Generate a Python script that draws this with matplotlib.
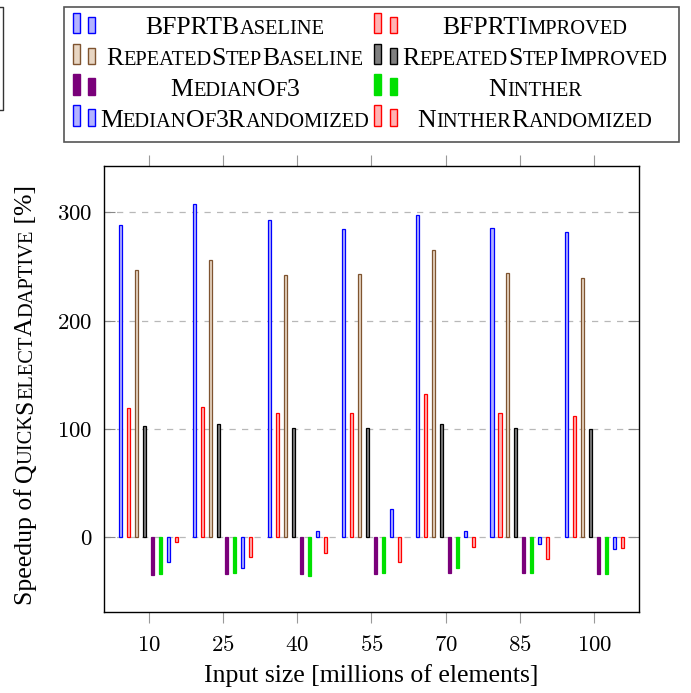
import numpy as np
import matplotlib
matplotlib.use("Agg")
import matplotlib.pyplot as plt
from matplotlib.patches import Rectangle
from matplotlib.lines import Line2D
from matplotlib.transforms import IdentityTransform

plt.rcParams['font.family'] = ['Liberation Serif', 'DejaVu Serif']
plt.rcParams['mathtext.fontset'] = 'cm'

# data
sizes = [10, 25, 40, 55, 70, 85, 100]
bfprt_base = [288, 308, 293, 285, 298, 286, 282]
bfprt_impr = [119, 120, 114, 114, 132, 114, 112]
rs_base = [247, 256, 242, 243, 265, 244, 239]
rs_impr = [102, 104, 101, 101, 104, 101, 100]
median3 = [-35.4, -34.5, -34.5, -34.5, -33.6, -34, -34.5]
ninther = [-34.8, -33.3, -36, -34, -29.3, -34, -34.5]
median3_rand = [-23.7, -29.3, 5.6, 25.6, 5.6, -7.1, -11.7]
ninther_rand = [-4.6, -19.1, -14.8, -23.7, -9.2, -20.9, -10.2]

names = ["BFPRTBaseline", "BFPRTImproved", "RepeatedStepBaseline", "RepeatedStepImproved",
         "MedianOf3", "Ninther", "MedianOf3Randomized", "NintherRandomized"]
series = [bfprt_base, bfprt_impr, rs_base, rs_impr, median3, ninther, median3_rand, ninther_rand]
edges = ['#0000ff', '#ff0000', '#7f5430', '#000000', '#7a007a', '#00e000', '#0000ff', '#ff0000']
fills = ['#b3b3ff', '#ffb3b3', '#e8d6c3', '#7f7f7f', '#7a007a', '#00e000', '#b3b3ff', '#ffb3b3']

W, H = 691, 693
FS = 18.5
fig = plt.figure(figsize=(W / 100, H / 100), dpi=100)
ax = fig.add_axes([104 / W, 1 - 612.3 / H, (639.3 - 104) / W, (612.3 - 166) / H])

step = 1.615
width = 0.62
x = np.array(sizes, dtype=float)
for k in range(len(series)):
    ax.bar(x + (k - 3.5) * step, series[k], width, color=fills[k], edgecolor=edges[k],
           linewidth=0.9, zorder=3)

ax.set_xlim(1, 109.1)
ax.set_ylim(-70, 343)
ax.set_xticks(sizes)
ax.set_xticklabels(['$%d$' % s for s in sizes], fontsize=16.5)
ax.set_yticks([0, 100, 200, 300])
ax.set_yticklabels(['$%d$' % v for v in [0, 100, 200, 300]], fontsize=16.5)
ax.tick_params(axis='x', direction='out', length=8, color='#999999', top=True, width=0.8, pad=8)
ax.tick_params(axis='y', direction='in', length=8, color='#888888', right=True, width=0.8, pad=8)
ax.grid(axis='y', color='#b8b8b8', linestyle=(0, (5, 5)), linewidth=0.9, zorder=0)
for sp in ax.spines.values():
    sp.set_linewidth(1.0)

ax.set_xlabel('Input size [millions of elements]', fontsize=FS, labelpad=6)

renderer = fig.canvas.get_renderer()
pix = IdentityTransform()


def runs_of(s, smallcaps=True):
    out = []
    for c in s:
        big = (not smallcaps) or (not c.islower())
        ch = c.upper() if smallcaps else c
        if out and out[-1][1] == big:
            out[-1][0] += ch
        else:
            out.append([ch, big])
    return out


def draw_runs(runs, x0, y0, size, small=0.8, rot=0, center=False):
    arts = []
    total = 0
    for txt, big in runs:
        t = fig.text(0, 0, txt, fontsize=size if big else size * small, transform=pix,
                     rotation=rot, rotation_mode='anchor', ha='left', va='baseline')
        w = t.get_window_extent(renderer)
        ext = w.height if rot else w.width
        arts.append((t, ext))
        total += ext
    pos = -total / 2 if center else 0
    for t, ext in arts:
        if rot:
            t.set_position((x0, y0 + pos))
        else:
            t.set_position((x0 + pos, y0))
        pos += ext


# y label: normal text + small caps + normal
ylabel_runs = [["Speedup of ", True]] + runs_of("QuickSelectAdaptive") + [[" [%]", True]]
draw_runs(ylabel_runs, 32, H - 395, FS, small=0.8, rot=90, center=True)

# legend frame
fig.add_artist(Rectangle((64.3, H - 141.7), 679.3 - 64.3, 141.7 - 6.7, transform=pix,
                         fill=False, edgecolor='#555555', linewidth=1.2))
# partial box at the far left
fig.add_artist(Line2D([0, 3.3, 3.3, 0], [H - 6.7, H - 6.7, H - 110, H - 110], transform=pix,
                      color='#333333', linewidth=1.0))

legend_cols = [[0, 2, 4, 6], [1, 3, 5, 7]]
icon_x = [(72.7, 88.3), (374.0, 390.0)]
text_cx = [235, 535]
row_gap = 30.8
for c, col in enumerate(legend_cols):
    for r, i in enumerate(col):
        base = 33.3 + r * row_gap
        fig.add_artist(Rectangle((icon_x[c][0], H - base), 7, base - (12.7 + r * row_gap), transform=pix,
                                 facecolor=fills[i], edgecolor=edges[i], linewidth=1.0))
        fig.add_artist(Rectangle((icon_x[c][1], H - base), 7, base - (16.7 + r * row_gap), transform=pix,
                                 facecolor=fills[i], edgecolor=edges[i], linewidth=1.0))
        draw_runs(runs_of(names[i]), text_cx[c], H - (34.3 + r * row_gap), FS, small=0.8, center=True)

fig.savefig('out.png', dpi=100)
